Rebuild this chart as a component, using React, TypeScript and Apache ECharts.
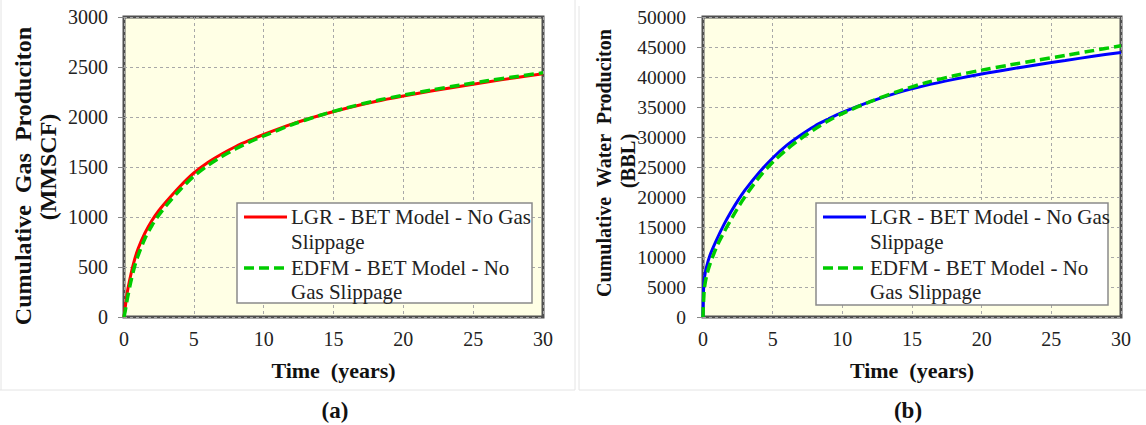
import React, { useEffect, useRef } from "react";
import * as echarts from "echarts";

// Cumulative gas production (MMSCF) vs time (years)
const gasYears = [0, 0.1, 0.25, 0.5, 0.75, 1, 1.5, 2, 2.5, 3, 4, 5, 6, 7, 8, 9, 10, 12, 14, 16, 18, 20, 22, 24, 26, 28, 30];
const gasLGR = [0, 110, 260, 430, 570, 680, 840, 965, 1065, 1150, 1305, 1440, 1545, 1630, 1705, 1768, 1825, 1928, 2015, 2090, 2155, 2210, 2260, 2305, 2350, 2392, 2432];
const gasEDFM = [0, 70, 190, 360, 500, 610, 785, 915, 1020, 1110, 1270, 1408, 1515, 1605, 1682, 1750, 1810, 1922, 2015, 2094, 2162, 2218, 2270, 2317, 2362, 2403, 2442];

// Cumulative water production (BBL) vs time (years)
const waterYears = [0, 0.02, 0.05, 0.1, 0.25, 0.5, 1, 1.5, 2, 2.5, 3, 4, 5, 6, 7, 8, 9, 10, 12, 14, 16, 18, 20, 22, 24, 26, 28, 30];
const waterLGR = [0, 3000, 5000, 6500, 8300, 10300, 13000, 15400, 17500, 19400, 21100, 24000, 26500, 28600, 30300, 31800, 33000, 34100, 35900, 37400, 38600, 39600, 40500, 41300, 42050, 42750, 43450, 44100];
const waterEDFM = [0, 1500, 3000, 4800, 6800, 8800, 11800, 14100, 16200, 18200, 20000, 23200, 25800, 27900, 29700, 31300, 32700, 33900, 35900, 37600, 39050, 40200, 41150, 42000, 42800, 43600, 44400, 45200];

const timeTicks = { min: 0, max: 30, interval: 5 };
const gasTicks = { min: 0, max: 3000, interval: 500 };
const waterTicks = { min: 0, max: 50000, interval: 5000 };

const legendNames = [
  ["LGR - BET Model - No Gas", "Slippage"],
  ["EDFM - BET Model - No", "Gas Slippage"],
];

const SERIF = "Liberation Serif";
const RED = "#ff0000";
const GREEN = "#00cc00";
const BLUE = "#0000ff";

const pairs = (xs: number[], ys: number[]) => xs.map((x, i) => [x, ys[i]]);
const plain = (v: number) => String(v);

function xAxisFor(gridIndex: number) {
  return {
    type: "value",
    gridIndex,
    ...timeTicks,
    axisLine: { show: false },
    axisTick: { show: false },
    axisLabel: { fontSize: 20, color: "#222", fontFamily: SERIF, margin: 12, formatter: plain },
    splitLine: { show: true, lineStyle: { color: "#a8a8a8", type: [3, 3], width: 1 } },
    name: "Time  (years)",
    nameLocation: "middle",
    nameGap: 42,
    nameTextStyle: { fontSize: 22, fontWeight: "bold", color: "#111", fontFamily: SERIF },
  };
}

function yAxisFor(gridIndex: number, ticks: { min: number; max: number; interval: number }, fontSize: number, margin: number) {
  return {
    type: "value",
    gridIndex,
    ...ticks,
    axisLine: { show: false },
    axisTick: { show: true, inside: false, length: 6, lineStyle: { color: "#888", width: 1 } },
    axisLabel: { fontSize, color: "#222", fontFamily: SERIF, margin, formatter: plain },
    splitLine: { show: true, lineStyle: { color: "#a8a8a8", type: [3, 3], width: 1 } },
  };
}

function lineSeries(name: string, data: number[][], idx: number, color: string, dashed: boolean) {
  return {
    type: "line",
    name,
    xAxisIndex: idx,
    yAxisIndex: idx,
    data,
    showSymbol: false,
    symbol: "none",
    smooth: 0.3,
    z: dashed ? 4 : 3,
    lineStyle: dashed ? { color, width: 3.5, type: [10, 5] } : { color, width: 3 },
  };
}

function legendBox(x: number, y: number, w: number, h: number, solid: string) {
  const lx1 = x + 7;
  const lx2 = x + 50;
  const tx = x + 54;
  const t = (text: string, ty: number) => ({
    type: "text",
    x: tx,
    y: ty,
    style: { text, fontSize: 21, fontFamily: SERIF, fill: "#222", align: "left", verticalAlign: "middle" },
    z: 11,
  });
  return [
    { type: "rect", shape: { x, y, width: w, height: h }, style: { fill: "#fff", stroke: "#8a8a8a", lineWidth: 1.5 }, z: 10 },
    { type: "line", shape: { x1: lx1, y1: y + 14, x2: lx2, y2: y + 14 }, style: { stroke: solid, lineWidth: 3 }, z: 11 },
    t(legendNames[0][0], y + 14),
    t(legendNames[0][1], y + 39),
    { type: "line", shape: { x1: lx1, y1: y + 65, x2: lx2, y2: y + 65 }, style: { stroke: GREEN, lineWidth: 3.5, lineDash: [10, 5] }, z: 11 },
    t(legendNames[1][0], y + 65),
    t(legendNames[1][1], y + 89),
  ];
}

function vTitle(text: string, x: number, y: number, fontSize: number) {
  return {
    type: "text",
    x,
    y,
    rotation: Math.PI / 2,
    style: { text, fontSize, fontWeight: "bold", fontFamily: SERIF, fill: "#111", align: "center", verticalAlign: "middle" },
  };
}

export default function App() {
  const ref = useRef<HTMLDivElement>(null);

  useEffect(() => {
    if (!ref.current) return;
    const chart = echarts.init(ref.current, undefined, { renderer: "svg" });
    const panelLine = { stroke: "#e4e4e4", lineWidth: 1 };
    chart.setOption({
      animation: false,
      backgroundColor: "#fff",
      textStyle: { fontFamily: SERIF },
      grid: [
        { left: 124, top: 17, width: 419, height: 300, show: true, backgroundColor: "#ffffe5", borderColor: "#505050", borderWidth: 3 },
        { left: 703, top: 17, width: 418, height: 300, show: true, backgroundColor: "#ffffe5", borderColor: "#505050", borderWidth: 3 },
      ],
      xAxis: [xAxisFor(0), xAxisFor(1)],
      yAxis: [yAxisFor(0, gasTicks, 20, 16), yAxisFor(1, waterTicks, 19.5, 17)],
      series: [
        lineSeries(legendNames[0].join(" "), pairs(gasYears, gasLGR), 0, RED, false),
        lineSeries(legendNames[1].join(" "), pairs(gasYears, gasEDFM), 0, GREEN, true),
        lineSeries(legendNames[0].join(" "), pairs(waterYears, waterLGR), 1, BLUE, false),
        lineSeries(legendNames[1].join(" "), pairs(waterYears, waterEDFM), 1, GREEN, true),
      ],
      graphic: [
        // panel frames
        { type: "line", shape: { x1: 1, y1: 0, x2: 1, y2: 390 }, style: panelLine },
        { type: "line", shape: { x1: 0, y1: 390, x2: 575, y2: 390 }, style: panelLine },
        { type: "line", shape: { x1: 575, y1: 0, x2: 575, y2: 390 }, style: panelLine },
        { type: "line", shape: { x1: 579, y1: 6, x2: 579, y2: 390 }, style: panelLine },
        { type: "line", shape: { x1: 579, y1: 390, x2: 1146, y2: 390 }, style: panelLine },
        // legends
        ...legendBox(237, 203, 295, 100, RED),
        ...legendBox(816, 203, 292, 102, BLUE),
        // y-axis titles
        vTitle("Cumulative  Gas  Produciton", 23, 176, 24),
        vTitle("(MMSCF)", 48, 167, 24),
        vTitle("Cumulative  Water  Produciton", 604, 163, 20),
        vTitle("(BBL)", 628, 161, 20.5),
        // sub-figure captions
        { type: "text", x: 335, y: 410, style: { text: "(a)", fontSize: 23, fontWeight: "bold", fontFamily: SERIF, fill: "#111", align: "center", verticalAlign: "middle" } },
        { type: "text", x: 908, y: 410, style: { text: "(b)", fontSize: 23, fontWeight: "bold", fontFamily: SERIF, fill: "#111", align: "center", verticalAlign: "middle" } },
      ],
    });
    return () => chart.dispose();
  }, []);

  return <div ref={ref} style={{ position: "absolute", left: 0, top: 0, width: 1146, height: 425 }} />;
}
